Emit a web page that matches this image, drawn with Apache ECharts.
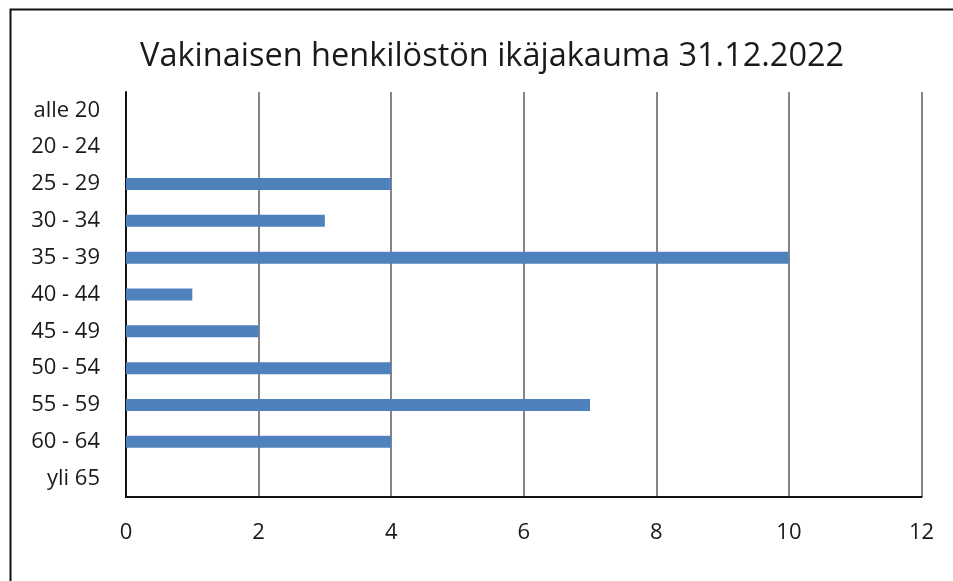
<!DOCTYPE html>
<html>
<head>
<meta charset="utf-8">
<script src="https://cdn.jsdelivr.net/npm/echarts@6/dist/echarts.min.js"></script>
<style>html,body{margin:0;padding:0;background:#fff;}#c{width:953px;height:581px;}</style>
</head>
<body>
<div id="c"></div>
<script>
const titleText = 'Vakinaisen henkilöstön ikäjakauma 31.12.2022';
const categories = ['alle 20','20 - 24','25 - 29','30 - 34','35 - 39','40 - 44','45 - 49','50 - 54','55 - 59','60 - 64','yli 65'];
const values = [0,0,4,3,10,1,2,4,7,4,0];
const xTicks = {min:0, max:12, interval:2};

const chart = echarts.init(document.getElementById('c'), null, {renderer:'canvas'});
const FONT = 'Open Sans';
chart.setOption({
  backgroundColor:'#fff',
  animation:false,
  title:{text:titleText, left:135, top:35, textStyle:{fontFamily:FONT, fontSize:32.5, fontWeight:'normal', color:'#1a1a1a'}},
  grid:{left:126, top:92, right:31.5, bottom:84},
  xAxis:{type:'value', min:xTicks.min, max:xTicks.max, interval:xTicks.interval,
    axisLine:{show:true, onZero:false, lineStyle:{color:'#111', width:2}},
    axisTick:{show:false},
    axisLabel:{fontFamily:FONT, fontSize:22, color:'#1a1a1a', margin:25},
    splitLine:{show:true, lineStyle:{color:'#858585', width:2}}
  },
  yAxis:{type:'category', data:categories, inverse:true,
    axisLine:{show:true, lineStyle:{color:'#111', width:2}},
    axisTick:{show:false},
    axisLabel:{fontFamily:FONT, fontSize:22, color:'#1a1a1a', margin:26},
    splitLine:{show:false}
  },
  series:[{type:'bar', data:values, barWidth:12, itemStyle:{color:'#4f81bd'}}],
  graphic:[
    {type:'polyline', shape:{points:[[10.5,581],[10.5,9.5],[953,9.5]]}, style:{stroke:'#111', lineWidth:2, fill:null}, silent:true}
  ]
});
</script>
</body>
</html>
